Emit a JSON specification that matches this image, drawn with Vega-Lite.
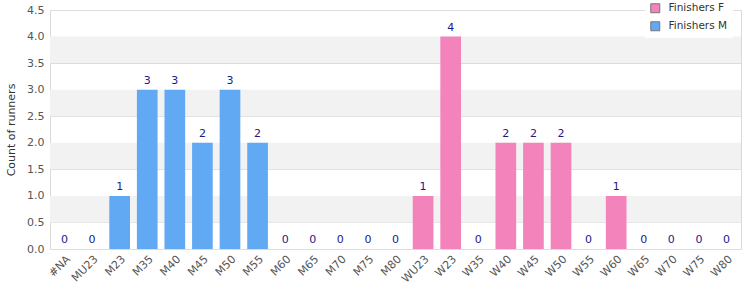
{
  "$schema": "https://vega.github.io/schema/vega-lite/v6.json",
  "width": 691,
  "height": 239,
  "autosize": {"type": "none"},
  "padding": {"left": 50, "top": 10, "right": 9, "bottom": 51},
  "background": "white",
  "config": {
    "font": "DejaVu Sans",
    "view": {"stroke": "#d9d9d9", "strokeWidth": 1},
    "axisY": {
      "titleFontWeight": "normal", "titleFontSize": 11, "titleColor": "#333333", "titlePadding": 10,
      "labelOverlap": false, "labelFlush": false, "labelColor": "#555555", "labelFontSize": 11,
      "ticks": false, "domain": false, "gridColor": "#dddddd", "labelPadding": 6
    }
  },
  "datasets": {
    "runners": [
      {"cat": "#NA", "series": "Finishers M", "count": 0},
      {"cat": "MU23", "series": "Finishers M", "count": 0},
      {"cat": "M23", "series": "Finishers M", "count": 1},
      {"cat": "M35", "series": "Finishers M", "count": 3},
      {"cat": "M40", "series": "Finishers M", "count": 3},
      {"cat": "M45", "series": "Finishers M", "count": 2},
      {"cat": "M50", "series": "Finishers M", "count": 3},
      {"cat": "M55", "series": "Finishers M", "count": 2},
      {"cat": "M60", "series": "Finishers M", "count": 0},
      {"cat": "M65", "series": "Finishers M", "count": 0},
      {"cat": "M70", "series": "Finishers M", "count": 0},
      {"cat": "M75", "series": "Finishers M", "count": 0},
      {"cat": "M80", "series": "Finishers M", "count": 0},
      {"cat": "WU23", "series": "Finishers F", "count": 1},
      {"cat": "W23", "series": "Finishers F", "count": 4},
      {"cat": "W35", "series": "Finishers F", "count": 0},
      {"cat": "W40", "series": "Finishers F", "count": 2},
      {"cat": "W45", "series": "Finishers F", "count": 2},
      {"cat": "W50", "series": "Finishers F", "count": 2},
      {"cat": "W55", "series": "Finishers F", "count": 0},
      {"cat": "W60", "series": "Finishers F", "count": 1},
      {"cat": "W65", "series": "Finishers F", "count": 0},
      {"cat": "W70", "series": "Finishers F", "count": 0},
      {"cat": "W75", "series": "Finishers F", "count": 0},
      {"cat": "W80", "series": "Finishers F", "count": 0}
    ],
    "bands": [
      {"lo": 0.5, "hi": 1.0},
      {"lo": 1.5, "hi": 2.0},
      {"lo": 2.5, "hi": 3.0},
      {"lo": 3.5, "hi": 4.0}
    ]
  },
  "layer": [
    {
      "data": {"name": "bands"},
      "mark": {"type": "rect", "color": "#f2f2f2"},
      "encoding": {
        "y": {
          "field": "lo", "type": "quantitative",
          "scale": {"domain": [0, 4.5], "nice": false},
          "axis": {"title": "Count of runners", "values": [0, 0.5, 1, 1.5, 2, 2.5, 3, 3.5, 4, 4.5], "format": ".1f", "tickCount": 10}
        },
        "y2": {"field": "hi"}
      }
    },
    {
      "data": {"name": "runners"},
      "mark": {"type": "bar"},
      "encoding": {
        "x": {
          "field": "cat", "type": "nominal", "sort": null,
          "scale": {"paddingInner": 0.25, "paddingOuter": 0.15},
          "axis": {
            "title": null, "labelAngle": -45, "labelAlign": "right", "labelBaseline": "top",
            "labelColor": "#555555", "labelFontSize": 11, "ticks": false, "domain": false,
            "labelPadding": 4
          }
        },
        "y": {
          "field": "count", "type": "quantitative",
          "axis": {"title": "Count of runners", "values": [0, 0.5, 1, 1.5, 2, 2.5, 3, 3.5, 4, 4.5], "format": ".1f", "tickCount": 10}
        },
        "color": {
          "field": "series", "type": "nominal",
          "scale": {"domain": ["Finishers F", "Finishers M"], "range": ["#f383bb", "#62a9f4"]},
          "legend": {
            "title": null, "orient": "none", "legendX": 595, "legendY": -12, "symbolType": "square",
            "symbolStrokeColor": "#777777", "symbolStrokeWidth": 1, "symbolSize": 81,
            "labelFontSize": 10.5, "labelColor": "#333333", "fillColor": "white",
            "padding": 5, "rowPadding": 4, "labelOffset": 8
          }
        }
      }
    },
    {
      "data": {"name": "runners"},
      "mark": {"type": "text", "baseline": "bottom", "dy": -4, "color": "#1a1a8a", "fontSize": 11},
      "encoding": {
        "x": {"field": "cat", "type": "nominal", "sort": null},
        "y": {"field": "count", "type": "quantitative"},
        "text": {"field": "count", "type": "quantitative"}
      }
    }
  ]
}
